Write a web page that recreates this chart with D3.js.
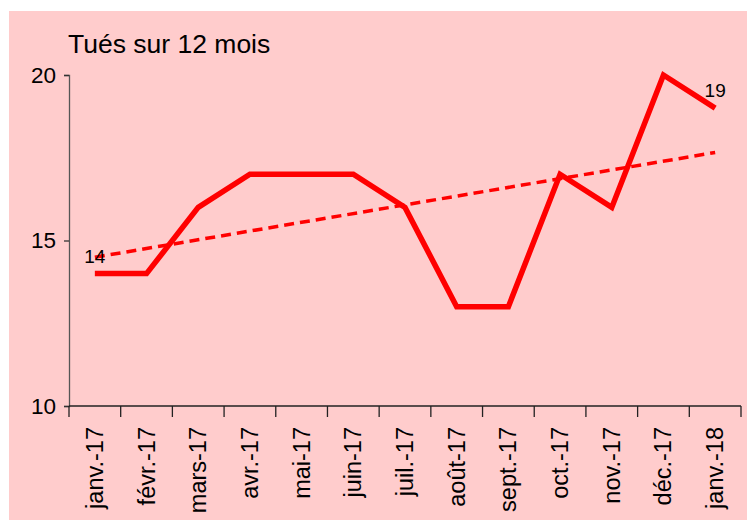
<!DOCTYPE html>
<html>
<head>
<meta charset="utf-8">
<script src="https://cdn.jsdelivr.net/npm/d3@7"></script>
<style>
  body { margin: 0; background: #ffffff; }
</style>
</head>
<body>
<script>
// data
var months = ["janv.-17", "févr.-17", "mars-17", "avr.-17", "mai-17", "juin-17", "juil.-17",
              "août-17", "sept.-17", "oct.-17", "nov.-17", "déc.-17", "janv.-18"];
var tues = [14, 14, 16, 17, 17, 17, 16, 13, 13, 17, 16, 20, 19];
var yTicks = [10, 15, 20];

var width = 747, height = 520;

var svg = d3.select("body")
  .append("svg")
  .attr("width", width)
  .attr("height", height)
  .style("font-family", "'Liberation Sans', Arial, sans-serif");

svg.append("rect")
  .attr("x", 9)
  .attr("y", 11)
  .attr("width", width - 9)
  .attr("height", height - 11)
  .attr("fill", "#ffcccc");

var x = d3.scaleBand()
  .domain(months)
  .range([69, 741]);

var y = d3.scaleLinear()
  .domain([10, 20])
  .range([406, 75]);

// y axis
var yAxis = svg.append("g")
  .attr("transform", "translate(69,0)")
  .call(d3.axisLeft(y).tickValues(yTicks).tickSize(5).tickPadding(8).tickFormat(d3.format("d")));
yAxis.select(".domain").attr("stroke", "#555").attr("stroke-width", 1.3);
yAxis.selectAll(".tick line").attr("stroke", "#333").attr("stroke-width", 1.3);
yAxis.selectAll("text")
  .attr("fill", "#000")
  .style("font-size", "22.5px")
  .style("font-family", "'Liberation Sans', Arial, sans-serif");

// x axis with ticks at band boundaries
var xAxis = svg.append("g")
  .attr("transform", "translate(0,406)");
xAxis.append("line")
  .attr("x1", x.range()[0])
  .attr("x2", x.range()[1])
  .attr("stroke", "#222")
  .attr("stroke-width", 1.3);

var bounds = months.map(m => x(m)).concat([x.range()[1]]);
xAxis.selectAll(".xtick")
  .data(bounds)
  .enter()
  .append("line")
  .attr("class", "xtick")
  .attr("x1", d => d)
  .attr("x2", d => d)
  .attr("y1", 0)
  .attr("y2", 11)
  .attr("stroke", "#222")
  .attr("stroke-width", 1.3);

xAxis.selectAll(".xlab")
  .data(months)
  .enter()
  .append("text")
  .attr("class", "xlab")
  .text(d => d)
  .attr("transform", d => "translate(" + (x(d) + x.bandwidth() / 2 + 8) + ",21) rotate(-90)")
  .attr("text-anchor", "end")
  .style("font-size", "23.5px")
  .attr("fill", "#000");

// trend (least squares)
var n = tues.length;
var mx = d3.mean(tues, (d, i) => i);
var my = d3.mean(tues);
var slope = d3.sum(tues, (d, i) => (i - mx) * (d - my)) / d3.sum(tues, (d, i) => (i - mx) * (i - mx));
var inter = my - slope * mx;
var cx = i => x(months[i]) + x.bandwidth() / 2;

svg.append("line")
  .attr("x1", cx(0))
  .attr("y1", y(inter))
  .attr("x2", cx(n - 1))
  .attr("y2", y(inter + slope * (n - 1)))
  .attr("stroke", "#ff0000")
  .attr("stroke-width", 3.5)
  .attr("stroke-dasharray", "10,6");

// main line
var line = d3.line()
  .x((d, i) => cx(i))
  .y(d => y(d));

svg.append("path")
  .datum(tues)
  .attr("d", line)
  .attr("fill", "none")
  .attr("stroke", "#ff0000")
  .attr("stroke-width", 5.5)
  .attr("stroke-linejoin", "miter");

// first and last value labels
svg.selectAll(".vlab")
  .data([0, n - 1])
  .enter()
  .append("text")
  .attr("class", "vlab")
  .text(i => tues[i])
  .attr("x", i => cx(i))
  .attr("y", i => y(tues[i]) - 11)
  .attr("text-anchor", "middle")
  .style("font-size", "19px")
  .attr("fill", "#000");

// title
svg.append("text")
  .text("Tués sur 12 mois")
  .attr("x", 68)
  .attr("y", 53)
  .style("font-size", "26.5px")
  .attr("fill", "#000");
</script>
</body>
</html>
